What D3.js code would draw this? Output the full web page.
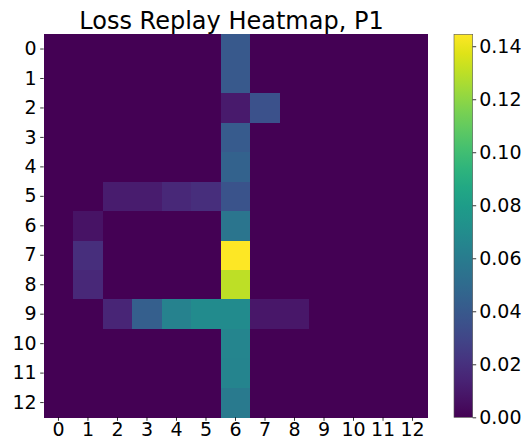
<!DOCTYPE html>
<html>
<head>
<meta charset="utf-8">
<script src="https://cdn.jsdelivr.net/npm/d3@7"></script>
<style>
  html, body { margin: 0; padding: 0; background: #fff; }
  svg { display: block; font-family: "DejaVu Sans", sans-serif; }
</style>
</head>
<body>
<svg id="chart" width="532" height="441"></svg>
<script>
// Grid labels (columns left to right, rows top to bottom)
const cols = ["0","1","2","3","4","5","6","7","8","9","10","11","12"];
const rows = ["0","1","2","3","4","5","6","7","8","9","10","11","12"];

// Loss replay values, one array per row
const row0  = [0,0,0,0,0,0,0.040,0,0,0,0,0,0];
const row1  = [0,0,0,0,0,0,0.040,0,0,0,0,0,0];
const row2  = [0,0,0,0,0,0,0.010,0.036,0,0,0,0,0];
const row3  = [0,0,0,0,0,0,0.041,0,0,0,0,0,0];
const row4  = [0,0,0,0,0,0,0.045,0,0,0,0,0,0];
const row5  = [0,0,0.011,0.011,0.016,0.019,0.037,0,0,0,0,0,0];
const row6  = [0,0.007,0,0,0,0,0.056,0,0,0,0,0,0];
const row7  = [0,0.019,0,0,0,0,0.1445,0,0,0,0,0,0];
const row8  = [0,0.016,0,0,0,0,0.130,0,0,0,0,0,0];
const row9  = [0,0,0.015,0.043,0.064,0.069,0.069,0.009,0.009,0,0,0,0];
const row10 = [0,0,0,0,0,0,0.066,0,0,0,0,0,0];
const row11 = [0,0,0,0,0,0,0.065,0,0,0,0,0,0];
const row12 = [0,0,0,0,0,0,0.059,0,0,0,0,0,0];
const values = [row0,row1,row2,row3,row4,row5,row6,row7,row8,row9,row10,row11,row12];

const colorbarTicks = [0.00, 0.02, 0.04, 0.06, 0.08, 0.10, 0.12, 0.14];
const title = "Loss Replay Heatmap, P1";

const svg = d3.select("#chart");
const plot = { left: 43.7, top: 34.3, right: 427.3, bottom: 417.3 };
const tickFont = 19;

const x = d3.scaleBand().domain(cols).range([plot.left, plot.right]).padding(0);
const y = d3.scaleBand().domain(rows).range([plot.top, plot.bottom]).padding(0);

const vmin = 0;
const vmax = d3.max(values.flat());
const color = d3.scaleSequential(d3.interpolateViridis).domain([vmin, vmax]);

// Heatmap cells
const cells = [];
values.forEach((r, i) => r.forEach((v, j) => cells.push({ row: rows[i], col: cols[j], v })));
svg.append("g")
  .selectAll("rect")
  .data(cells)
  .join("rect")
  .attr("x", d => x(d.col))
  .attr("y", d => y(d.row))
  .attr("width", x.bandwidth() + 0.4)
  .attr("height", y.bandwidth() + 0.4)
  .attr("fill", d => color(d.v))
  .attr("shape-rendering", "crispEdges");

// Axes
const xAxis = svg.append("g")
  .attr("transform", `translate(0,${plot.bottom})`)
  .call(d3.axisBottom(x).tickSize(3.5).tickPadding(2));
const yAxis = svg.append("g")
  .attr("transform", `translate(${plot.left},0)`)
  .call(d3.axisLeft(y).tickSize(3.5).tickPadding(3.5));
[xAxis, yAxis].forEach(g => {
  g.select(".domain").remove();
  g.selectAll("text").attr("font-size", tickFont).attr("font-family", "DejaVu Sans").attr("fill", "#000");
  g.selectAll("line").attr("stroke", "#000").attr("stroke-width", 0.8);
});

// Title
svg.append("text")
  .attr("x", (plot.left + plot.right) / 2 - 4)
  .attr("y", 29)
  .attr("text-anchor", "middle")
  .attr("font-size", 24)
  .attr("fill", "#000")
  .text(title);

// Colorbar
const cb = { left: 454, right: 472.7, top: plot.top, bottom: plot.bottom };
const defs = svg.append("defs");
const grad = defs.append("linearGradient")
  .attr("id", "cbgrad")
  .attr("x1", 0).attr("y1", 1).attr("x2", 0).attr("y2", 0);
d3.range(0, 1.0001, 0.05).forEach(t => {
  grad.append("stop").attr("offset", t).attr("stop-color", d3.interpolateViridis(t));
});
svg.append("rect")
  .attr("x", cb.left).attr("y", cb.top)
  .attr("width", cb.right - cb.left).attr("height", cb.bottom - cb.top)
  .attr("fill", "url(#cbgrad)")
  .attr("stroke", "#555")
  .attr("stroke-width", 0.6);

const cy = d3.scaleLinear().domain([vmin, vmax]).range([cb.bottom, cb.top]);
const cAxis = svg.append("g")
  .attr("transform", `translate(${cb.right},0)`)
  .call(d3.axisRight(cy).tickValues(colorbarTicks).tickFormat(d3.format(".2f")).tickSize(3.5).tickPadding(3));
cAxis.select(".domain").remove();
cAxis.selectAll("text").attr("font-size", tickFont).attr("font-family", "DejaVu Sans").attr("fill", "#000");
cAxis.selectAll("line").attr("stroke", "#000").attr("stroke-width", 0.8);
</script>
</body>
</html>
